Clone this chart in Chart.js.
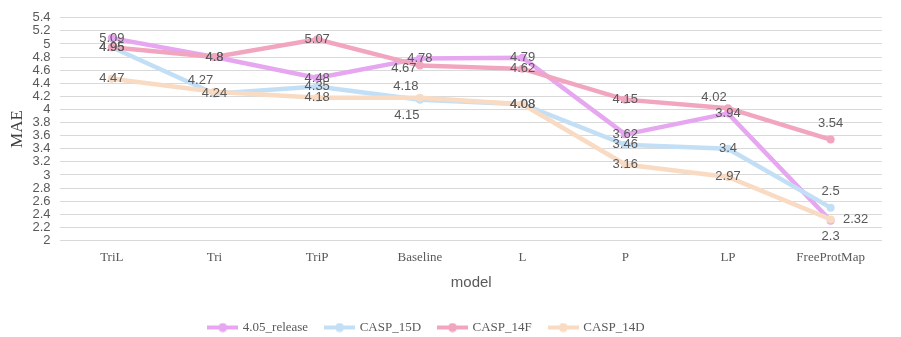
<!DOCTYPE html>
<html>
<head>
<meta charset="utf-8">
<script src="https://cdn.jsdelivr.net/npm/chart.js@4"></script>
<style>
    html, body { margin: 0; padding: 0; background: #fff; }
    #wrap { width: 901px; height: 337px; }
</style>
</head>
<body>
<div id="wrap"><canvas id="maeChart" width="901" height="337"></canvas></div>
<script>
const categories = ['TriL', 'Tri', 'TriP', 'Baseline', 'L', 'P', 'LP', 'FreeProtMap'];
const seriesNames = ['4.05_release', 'CASP_15D', 'CASP_14F', 'CASP_14D'];
const release405 = [5.09, 4.8, 4.48, 4.78, 4.79, 3.62, 3.94, 2.3];
const casp15D = [4.95, 4.24, 4.35, 4.15, 4.08, 3.46, 3.4, 2.5];
const casp14F = [4.95, 4.8, 5.07, 4.67, 4.62, 4.15, 4.02, 3.54];
const casp14D = [4.47, 4.27, 4.18, 4.18, 4.08, 3.16, 2.97, 2.32];
const yMin = 2;
const yMax = 5.4;
const yStep = 0.2;

const seriesColors = ['#e6a6f0', '#c3dff6', '#f1a5bf', '#f8dbc2'];
const seriesValues = [release405, casp15D, casp14F, casp14D];

// where a value label sits relative to its point (default: centred on it)
const labelPlacement = {
    0: { 7: 'below' },
    1: { 3: 'belowLeft', 7: 'above' },
    2: { 3: 'left', 6: 'aboveLeft', 7: 'above' },
    3: { 1: 'aboveLeft', 3: 'aboveLeft', 7: 'right' }
};
const placementOffset = {
    center: [0, 0],
    above: [0, -16],
    below: [0, 16],
    left: [-16, 3],
    aboveLeft: [-14, -11],
    belowLeft: [-13, 16],
    right: [25, 0]
};

function legendMarker(color) {
    const c = document.createElement('canvas');
    c.width = 31;
    c.height = 10;
    const ctx = c.getContext('2d');
    ctx.strokeStyle = color;
    ctx.lineWidth = 4;
    ctx.beginPath();
    ctx.moveTo(0, 5);
    ctx.lineTo(31, 5);
    ctx.stroke();
    ctx.fillStyle = color;
    ctx.beginPath();
    ctx.arc(15.5, 5, 4.5, 0, Math.PI * 2);
    ctx.fill();
    return c;
}

const valueLabels = {
    id: 'valueLabels',
    afterDatasetsDraw(chart) {
        const ctx = chart.ctx;
        ctx.save();
        ctx.font = '13px "Liberation Sans Narrow", "Liberation Sans", sans-serif';
        ctx.fillStyle = '#595959';
        ctx.textAlign = 'center';
        ctx.textBaseline = 'middle';
        chart.data.datasets.forEach((ds, di) => {
            const meta = chart.getDatasetMeta(di);
            meta.data.forEach((pt, i) => {
                const where = (labelPlacement[di] || {})[i] || 'center';
                const off = placementOffset[where];
                ctx.fillText(String(ds.data[i]), pt.x + off[0], pt.y + off[1]);
            });
        });
        ctx.restore();
    }
};

// the legend in the original sits a little left of the canvas centre
const legendShift = {
    id: 'legendShift',
    afterLayout(chart) {
        if (!chart.legend) return;
        chart.legend.left -= 14;
        chart.legend.right -= 14;
    }
};

const datasets = seriesNames.map((name, i) => ({
    label: name,
    data: seriesValues[i],
    borderColor: seriesColors[i],
    backgroundColor: seriesColors[i],
    borderWidth: 4.5,
    pointRadius: 4,
    pointHoverRadius: 4,
    pointBorderWidth: 0,
    pointStyle: 'circle',
    legendMarker: legendMarker(seriesColors[i]),
    tension: 0,
    order: seriesNames.length - i
}));

new Chart(document.getElementById('maeChart').getContext('2d'), {
    type: 'line',
    data: { labels: categories, datasets },
    options: {
        responsive: false,
        animation: false,
        layout: { padding: { top: 9, right: 19, left: 0, bottom: -7 } },
        plugins: {
            tooltip: { enabled: false },
            legend: {
                position: 'bottom',
                labels: {
                    usePointStyle: true,
                    pointStyleWidth: 27,
                    boxHeight: 10,
                    padding: 18,
                    color: '#595959',
                    font: { family: '"Liberation Serif", serif', size: 13 },
                    sort: (a, b) => a.datasetIndex - b.datasetIndex,
                    generateLabels: (chart) => chart.data.datasets.map((ds, i) => ({
                        text: ds.label,
                        fillStyle: ds.borderColor,
                        strokeStyle: ds.borderColor,
                        lineWidth: 0,
                        pointStyle: ds.legendMarker,
                        fontColor: '#595959',
                        hidden: false,
                        datasetIndex: i
                    }))
                }
            }
        },
        scales: {
            x: {
                offset: true,
                grid: { display: false, drawTicks: false },
                border: { display: false },
                ticks: {
                    color: '#595959',
                    padding: 9,
                    font: { family: '"Liberation Serif", serif', size: 13 }
                },
                title: {
                    display: true,
                    text: 'model',
                    color: '#595959',
                    padding: { top: 0, bottom: 11 },
                    font: { family: '"Liberation Sans Narrow", "Liberation Sans", sans-serif', size: 15 }
                }
            },
            y: {
                min: yMin,
                max: yMax,
                grid: { color: '#d9d9d9', lineWidth: 1, drawTicks: false },
                border: { display: false },
                ticks: {
                    stepSize: yStep,
                    color: '#595959',
                    padding: 10,
                    autoSkip: false,
                    font: { family: '"Liberation Sans Narrow", "Liberation Sans", sans-serif', size: 13 },
                    callback: (value) => String(Number(Number(value).toFixed(1)))
                },
                title: {
                    display: true,
                    text: 'MAE',
                    color: '#404040',
                    padding: { top: 7, bottom: -5 },
                    font: { family: '"Liberation Serif", serif', size: 17 }
                }
            }
        }
    },
    plugins: [valueLabels, legendShift]
});
</script>
</body>
</html>
